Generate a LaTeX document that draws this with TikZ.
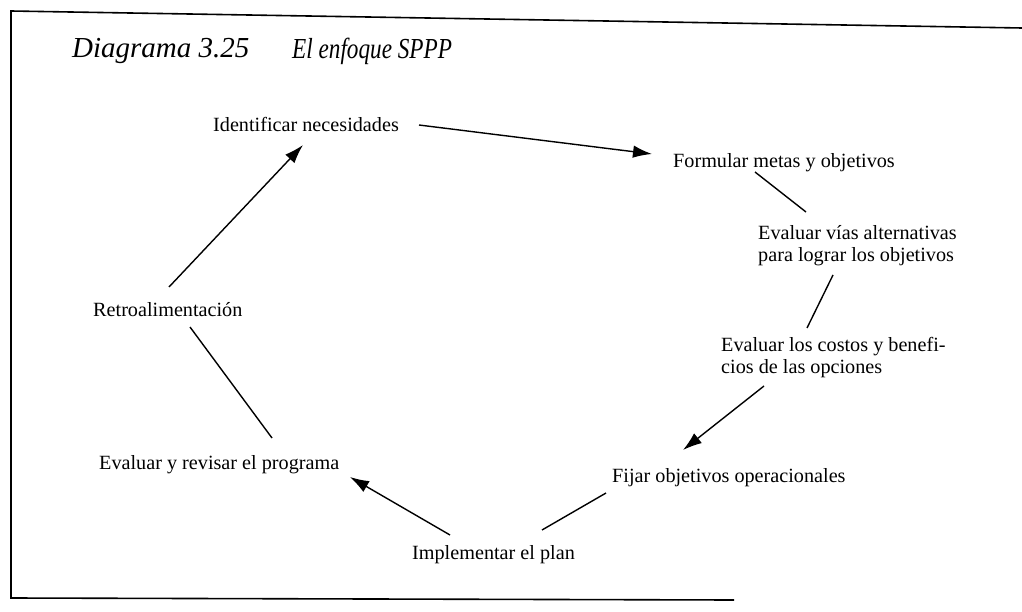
\documentclass[tikz,border=0pt]{standalone}
\usepackage{fontspec}
\setmainfont{Liberation Serif}
\usetikzlibrary{arrows.meta,calc}
\tikzset{
  lbl/.style={anchor=west,inner sep=0pt,font=\fontsize{20.2}{22}\selectfont},
  lbl2/.style={lbl,align=left},
  ttl/.style={anchor=west,inner sep=0pt,font=\fontsize{29}{32}\selectfont\itshape},
  conn/.style={line width=1.4pt},
  arr/.style={conn,-{Latex[length=19pt,width=12.5pt]}},
  frame/.style={line width=1.6pt}
}
\begin{document}
\begin{tikzpicture}[x=1pt,y=-1pt]
\useasboundingbox (0,0) rectangle (1022,612);
% frame
\draw[frame] (1022,28) -- (11,11) -- (11,598) -- (734,600);
% title
\node[ttl] (t1) at (72,51) {Diagrama 3.25};
\node[ttl] (t2) at (292,51) {\scalebox{0.8}[1]{El enfoque SPPP}};
% nodes
\node[lbl] (ident) at (213,124) {Identificar necesidades};
\node[lbl] (formular) at (673,163) {Formular metas y objetivos};
\node[lbl2] (vias) at (758,246) {Evaluar vías alternativas\\para lograr los objetivos};
\node[lbl2] (costos) at (721,358) {Evaluar los costos y benefi-\\cios de las opciones};
\node[lbl] (fijar) at (612,478) {Fijar objetivos operacionales};
\node[lbl] (impl) at (412,555) {Implementar el plan};
\node[lbl] (evalrev) at (99,465) {Evaluar y revisar el programa};
\node[lbl] (retro) at (93,310) {Retroalimentación};
% connectors
\draw[arr] ($(ident.west)+(206,1)$) -- ($(formular.west)+(-21,-9)$);
\draw[conn] ($(formular.west)+(82,9)$) -- ($(vias.west)+(48,-34)$);
\draw[conn] ($(vias.west)+(75,29)$) -- ($(costos.west)+(86,-30)$);
\draw[arr] ($(costos.west)+(43,28)$) -- ($(fijar.west)+(71,-28)$);
\draw[conn] ($(fijar.west)+(-6,15)$) -- ($(impl.west)+(130,-25)$);
\draw[arr] ($(impl.west)+(38,-20)$) -- ($(evalrev.west)+(251,12)$);
\draw[conn] ($(evalrev.west)+(173,-27)$) -- ($(retro.west)+(97,17)$);
\draw[arr] ($(retro.west)+(76,-23)$) -- ($(ident.west)+(90,21)$);
\end{tikzpicture}
\end{document}
